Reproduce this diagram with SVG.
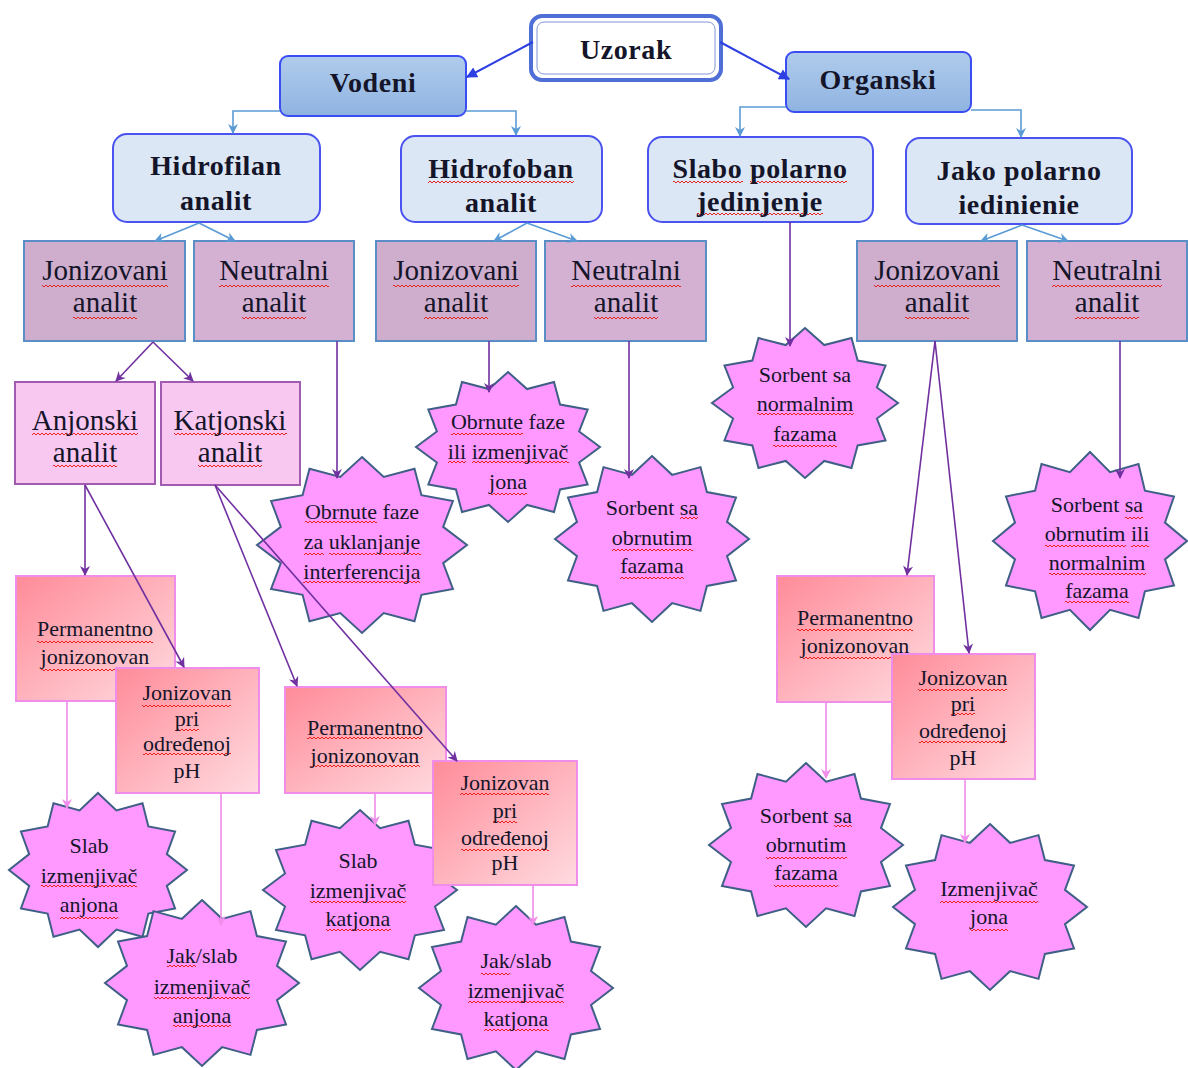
<svg xmlns="http://www.w3.org/2000/svg" width="1188" height="1068" viewBox="0 0 1188 1068">
<style>
text{font-family:"Liberation Serif","Times New Roman",serif;text-anchor:middle;fill:#15152a}
.b{font-weight:bold;font-size:28px;letter-spacing:0.6px}
.r{font-size:29px}
.s{font-size:22px}
.sq{fill:url(#wv)}
.top{fill:url(#gTop);stroke:#3a4df2;stroke-width:2}
.hid{fill:#dce7f5;stroke:#4a52ef;stroke-width:2}
.ion{fill:#cfadcc;stroke:#5b8ec6;stroke-width:2}
.neu{fill:#d4b0d2;stroke:#5b8ec6;stroke-width:2}
.ak{fill:#f8c8f1;stroke:#a15cb2;stroke-width:2}
.pk{fill:url(#gPink);stroke:#f08ce9;stroke-width:2}
.st{fill:#ff99ff;stroke:#3f5f86;stroke-width:2}
.cB{fill:none;stroke:#2d3fe3;stroke-width:2}
.cL{fill:none;stroke:#5b9bd5;stroke-width:1.6}
.cP{fill:none;stroke:#7030a0;stroke-width:1.6}
.cK{fill:none;stroke:#f08ce9;stroke-width:1.6}
</style>
<defs>
<linearGradient id="gTop" x1="0" y1="0" x2="0" y2="1"><stop offset="0" stop-color="#b0ccec"/><stop offset="1" stop-color="#8fb3e1"/></linearGradient>
<linearGradient id="gPink" x1="0" y1="0" x2="1" y2="1"><stop offset="0" stop-color="#ff8b99"/><stop offset="1" stop-color="#ffdbe0"/></linearGradient>
<pattern id="wv" patternUnits="userSpaceOnUse" x="0" y="0" width="4" height="4"><path d="M0,3 L2,1 L4,3" fill="none" stroke="#e8231e" stroke-width="1"/></pattern>
<polygon id="star" vector-effect="non-scaling-stroke" points="0,-1 0.207,-0.773 0.5,-0.866 0.566,-0.566 0.866,-0.5 0.773,-0.207 1,0 0.773,0.207 0.866,0.5 0.566,0.566 0.5,0.866 0.207,0.773 0,1 -0.207,0.773 -0.5,0.866 -0.566,0.566 -0.866,0.5 -0.773,0.207 -1,0 -0.773,-0.207 -0.866,-0.5 -0.566,-0.566 -0.5,-0.866 -0.207,-0.773"/>
<marker id="mB" viewBox="0 0 10 10" refX="9" refY="5" markerWidth="13" markerHeight="11" orient="auto" markerUnits="userSpaceOnUse"><path d="M0,0 L10,5 L0,10 z" fill="#2d3fe3"/></marker>
<marker id="mL" viewBox="0 0 10 10" refX="9" refY="5" markerWidth="11" markerHeight="10" orient="auto" markerUnits="userSpaceOnUse"><path d="M0,0 L10,5 L0,10 L3,5 z" fill="#5b9bd5"/></marker>
<marker id="mP" viewBox="0 0 10 10" refX="9" refY="5" markerWidth="11" markerHeight="10" orient="auto" markerUnits="userSpaceOnUse"><path d="M0,0 L10,5 L0,10 L3,5 z" fill="#7030a0"/></marker>
<marker id="mK" viewBox="0 0 10 10" refX="9" refY="5" markerWidth="11" markerHeight="10" orient="auto" markerUnits="userSpaceOnUse"><path d="M0,0 L10,5 L0,10 L3,5 z" fill="#f08ce9"/></marker>
</defs>
<rect width="1188" height="1068" fill="#ffffff"/>

<g id="uzorak">
<rect x="531" y="16" width="190" height="64" rx="11" fill="#fff" stroke="#4f6fd6" stroke-width="4"/>
<rect x="537" y="22" width="178" height="52" rx="7" fill="none" stroke="#8096d6" stroke-width="1"/>
<text class="b" x="626" y="59">Uzorak</text>
</g>
<g id="vodeni">
<rect class="top" x="280" y="56" width="186" height="60" rx="8"/>
<text class="b" x="373" y="92">Vodeni</text>
</g>
<g id="organski">
<rect class="top" x="786" y="52" width="185" height="60" rx="8"/>
<text class="b" x="878" y="89">Organski</text>
</g>

<g id="hidrofilan">
<rect class="hid" x="113" y="134" width="207" height="88" rx="14"/>
<text class="b" x="216" y="175">Hidrofilan</text>
<text class="b" x="216" y="210">analit</text>
</g>
<g id="hidrofoban">
<rect class="hid" x="401" y="136" width="201" height="86" rx="14"/>
<rect class="sq" x="428" y="180" width="146" height="4"/>
<text class="b" x="501" y="178">Hidrofoban</text>
<text class="b" x="501" y="212">analit</text>
</g>
<g id="slabo-polarno">
<rect class="hid" x="648" y="137" width="225" height="85" rx="14"/>
<rect class="sq" x="673" y="180" width="70" height="4"/>
<rect class="sq" x="750" y="180" width="97" height="4"/>
<rect class="sq" x="697" y="212" width="126" height="4"/>
<text class="b" x="760" y="178">Slabo polarno</text>
<text class="b" x="760" y="211">jedinjenje</text>
</g>
<g id="jako-polarno">
<rect class="hid" x="906" y="138" width="226" height="86" rx="14"/>
<text class="b" x="1019" y="180">Jako polarno</text>
<text class="b" x="1019" y="214">iedinienie</text>
</g>

<g id="jonizovani-1">
<rect class="ion" x="24" y="241" width="161" height="100"/>
<rect class="sq" x="42" y="284" width="126" height="4"/>
<rect class="sq" x="73" y="316" width="64" height="4"/>
<text class="r" x="105" y="280">Jonizovani</text>
<text class="r" x="105" y="312">analit</text>
</g>
<g id="neutralni-1">
<rect class="neu" x="194" y="241" width="160" height="100"/>
<rect class="sq" x="219" y="284" width="110" height="4"/>
<rect class="sq" x="242" y="316" width="64" height="4"/>
<text class="r" x="274" y="280">Neutralni</text>
<text class="r" x="274" y="312">analit</text>
</g>
<g id="jonizovani-2">
<rect class="ion" x="376" y="241" width="160" height="100"/>
<rect class="sq" x="393" y="284" width="126" height="4"/>
<rect class="sq" x="424" y="316" width="64" height="4"/>
<text class="r" x="456" y="280">Jonizovani</text>
<text class="r" x="456" y="312">analit</text>
</g>
<g id="neutralni-2">
<rect class="neu" x="545" y="241" width="161" height="100"/>
<rect class="sq" x="571" y="284" width="110" height="4"/>
<rect class="sq" x="594" y="316" width="64" height="4"/>
<text class="r" x="626" y="280">Neutralni</text>
<text class="r" x="626" y="312">analit</text>
</g>
<g id="jonizovani-3">
<rect class="ion" x="857" y="241" width="160" height="100"/>
<rect class="sq" x="874" y="284" width="126" height="4"/>
<rect class="sq" x="905" y="316" width="64" height="4"/>
<text class="r" x="937" y="280">Jonizovani</text>
<text class="r" x="937" y="312">analit</text>
</g>
<g id="neutralni-3">
<rect class="neu" x="1027" y="241" width="160" height="100"/>
<rect class="sq" x="1052" y="284" width="110" height="4"/>
<rect class="sq" x="1075" y="316" width="64" height="4"/>
<text class="r" x="1107" y="280">Neutralni</text>
<text class="r" x="1107" y="312">analit</text>
</g>

<g id="anjonski">
<rect class="ak" x="15" y="382" width="140" height="102"/>
<rect class="sq" x="32" y="432" width="106" height="4"/>
<rect class="sq" x="53" y="464" width="64" height="4"/>
<text class="r" x="85" y="430">Anjonski</text>
<text class="r" x="85" y="462">analit</text>
</g>
<g id="katjonski">
<rect class="ak" x="161" y="382" width="139" height="103"/>
<rect class="sq" x="174" y="432" width="113" height="4"/>
<rect class="sq" x="198" y="464" width="64" height="4"/>
<text class="r" x="230" y="430">Katjonski</text>
<text class="r" x="230" y="462">analit</text>
</g>

<g id="star-obrnute-izmenjivac">
<use href="#star" class="st" transform="translate(508,447) scale(92,75)"/>
<rect class="sq" x="451" y="432" width="72" height="4"/>
<rect class="sq" x="448" y="460" width="18" height="4"/>
<rect class="sq" x="472" y="460" width="97" height="4"/>
<rect class="sq" x="489" y="492" width="38" height="4"/>
<text class="s" x="508" y="429">Obrnute faze</text>
<text class="s" x="508" y="459">ili izmenjivač</text>
<text class="s" x="508" y="489">jona</text>
</g>
<g id="star-obrnute-interferencija">
<use href="#star" class="st" transform="translate(362,545) scale(105,88)"/>
<rect class="sq" x="305" y="520" width="72" height="4"/>
<rect class="sq" x="304" y="552" width="20" height="4"/>
<rect class="sq" x="329" y="552" width="92" height="4"/>
<rect class="sq" x="303" y="580" width="117" height="4"/>
<text class="s" x="362" y="519">Obrnute faze</text>
<text class="s" x="362" y="549">za uklanjanje</text>
<text class="s" x="362" y="579">interferencija</text>
</g>
<g id="star-sorbent-obrnutim-1">
<use href="#star" class="st" transform="translate(652,539) scale(97,83)"/>
<rect class="sq" x="680" y="516" width="18" height="4"/>
<rect class="sq" x="612" y="548" width="81" height="4"/>
<rect class="sq" x="620" y="576" width="64" height="4"/>
<text class="s" x="652" y="515">Sorbent sa</text>
<text class="s" x="652" y="545">obrnutim</text>
<text class="s" x="652" y="573">fazama</text>
</g>
<g id="star-sorbent-normalnim">
<use href="#star" class="st" transform="translate(805,403) scale(93,75)"/>
<rect class="sq" x="757" y="412" width="97" height="4"/>
<rect class="sq" x="773" y="444" width="64" height="4"/>
<text class="s" x="805" y="382">Sorbent sa</text>
<text class="s" x="805" y="411">normalnim</text>
<text class="s" x="805" y="441">fazama</text>
</g>
<g id="star-sorbent-obrnutim-normalnim">
<use href="#star" class="st" transform="translate(1090,541) scale(97,89)"/>
<rect class="sq" x="1125" y="516" width="18" height="4"/>
<rect class="sq" x="1045" y="544" width="81" height="4"/>
<rect class="sq" x="1131" y="544" width="18" height="4"/>
<rect class="sq" x="1049" y="572" width="97" height="4"/>
<rect class="sq" x="1065" y="600" width="64" height="4"/>
<text class="s" x="1097" y="512">Sorbent sa</text>
<text class="s" x="1097" y="541">obrnutim ili</text>
<text class="s" x="1097" y="570">normalnim</text>
<text class="s" x="1097" y="598">fazama</text>
</g>

<g id="perm-1">
<rect class="pk" x="16" y="576" width="159" height="125"/>
<rect class="sq" x="37" y="640" width="116" height="4"/>
<rect class="sq" x="41" y="668" width="109" height="4"/>
<text class="s" x="95" y="636">Permanentno</text>
<text class="s" x="95" y="664">jonizonovan</text>
</g>
<g id="jonizovan-1">
<rect class="pk" x="116" y="668" width="143" height="125"/>
<rect class="sq" x="142" y="704" width="89" height="4"/>
<rect class="sq" x="175" y="728" width="24" height="4"/>
<rect class="sq" x="143" y="752" width="88" height="4"/>
<text class="s" x="187" y="700">Jonizovan</text>
<text class="s" x="187" y="726">pri</text>
<text class="s" x="187" y="751">određenoj</text>
<text class="s" x="187" y="778">pH</text>
</g>
<g id="perm-2">
<rect class="pk" x="285" y="687" width="161" height="106"/>
<rect class="sq" x="307" y="736" width="116" height="4"/>
<rect class="sq" x="311" y="764" width="109" height="4"/>
<text class="s" x="365" y="735">Permanentno</text>
<text class="s" x="365" y="763">jonizonovan</text>
</g>
<g id="perm-3">
<rect class="pk" x="777" y="576" width="157" height="126"/>
<rect class="sq" x="797" y="628" width="116" height="4"/>
<rect class="sq" x="801" y="656" width="109" height="4"/>
<text class="s" x="855" y="625">Permanentno</text>
<text class="s" x="855" y="653">jonizonovan</text>
</g>
<g id="jonizovan-3">
<rect class="pk" x="892" y="654" width="143" height="125"/>
<rect class="sq" x="918" y="688" width="89" height="4"/>
<rect class="sq" x="951" y="712" width="24" height="4"/>
<rect class="sq" x="919" y="740" width="88" height="4"/>
<text class="s" x="963" y="685">Jonizovan</text>
<text class="s" x="963" y="711">pri</text>
<text class="s" x="963" y="738">određenoj</text>
<text class="s" x="963" y="765">pH</text>
</g>

<g id="star-slab-anjona">
<use href="#star" class="st" transform="translate(98,870) scale(89,77)"/>
<rect class="sq" x="41" y="884" width="96" height="4"/>
<rect class="sq" x="60" y="916" width="58" height="4"/>
<text class="s" x="89" y="853">Slab</text>
<text class="s" x="89" y="883">izmenjivač</text>
<text class="s" x="89" y="912">anjona</text>
</g>
<g id="star-jak-anjona">
<use href="#star" class="st" transform="translate(202,983) scale(97,83)"/>
<rect class="sq" x="167" y="964" width="29" height="4"/>
<rect class="sq" x="154" y="996" width="96" height="4"/>
<rect class="sq" x="173" y="1024" width="58" height="4"/>
<text class="s" x="202" y="963">Jak/slab</text>
<text class="s" x="202" y="994">izmenjivač</text>
<text class="s" x="202" y="1023">anjona</text>
</g>
<g id="star-slab-katjona">
<use href="#star" class="st" transform="translate(360,890) scale(97,80)"/>
<rect class="sq" x="310" y="900" width="96" height="4"/>
<rect class="sq" x="326" y="928" width="65" height="4"/>
<text class="s" x="358" y="868">Slab</text>
<text class="s" x="358" y="898">izmenjivač</text>
<text class="s" x="358" y="926">katjona</text>
</g>
<g id="jonizovan-2">
<rect class="pk" x="433" y="761" width="144" height="124"/>
<rect class="sq" x="460" y="792" width="89" height="4"/>
<rect class="sq" x="493" y="820" width="24" height="4"/>
<rect class="sq" x="461" y="848" width="88" height="4"/>
<text class="s" x="505" y="790">Jonizovan</text>
<text class="s" x="505" y="818">pri</text>
<text class="s" x="505" y="845">određenoj</text>
<text class="s" x="505" y="870">pH</text>
</g>
<g id="star-jak-katjona">
<use href="#star" class="st" transform="translate(516,988) scale(97,82)"/>
<rect class="sq" x="481" y="972" width="29" height="4"/>
<rect class="sq" x="468" y="1000" width="96" height="4"/>
<rect class="sq" x="484" y="1028" width="65" height="4"/>
<text class="s" x="516" y="968">Jak/slab</text>
<text class="s" x="516" y="998">izmenjivač</text>
<text class="s" x="516" y="1026">katjona</text>
</g>
<g id="star-sorbent-obrnutim-2">
<use href="#star" class="st" transform="translate(806,845) scale(97,82)"/>
<rect class="sq" x="834" y="824" width="18" height="4"/>
<rect class="sq" x="766" y="856" width="81" height="4"/>
<rect class="sq" x="774" y="884" width="64" height="4"/>
<text class="s" x="806" y="823">Sorbent sa</text>
<text class="s" x="806" y="852">obrnutim</text>
<text class="s" x="806" y="880">fazama</text>
</g>
<g id="star-izmenjivac-jona">
<use href="#star" class="st" transform="translate(990,907) scale(97,83)"/>
<rect class="sq" x="940" y="900" width="98" height="4"/>
<rect class="sq" x="970" y="928" width="38" height="4"/>
<text class="s" x="989" y="896">Izmenjivač</text>
<text class="s" x="989" y="924">jona</text>
</g>

<g id="connectors">
<path class="cB" d="M533,42 L467,77" marker-end="url(#mB)"/>
<path class="cB" d="M720,42 L789,79" marker-end="url(#mB)"/>
<path class="cL" d="M280,111 H233 V133" marker-end="url(#mL)"/>
<path class="cL" d="M466,111 H516 V135" marker-end="url(#mL)"/>
<path class="cL" d="M786,107 H740 V136" marker-end="url(#mL)"/>
<path class="cL" d="M971,110 H1021 V137" marker-end="url(#mL)"/>
<path class="cL" d="M199,223 L155,241" marker-end="url(#mL)"/>
<path class="cL" d="M199,223 L235,241" marker-end="url(#mL)"/>
<path class="cL" d="M527,223 L494,241" marker-end="url(#mL)"/>
<path class="cL" d="M527,223 L577,241" marker-end="url(#mL)"/>
<path class="cL" d="M1022,225 L981,241" marker-end="url(#mL)"/>
<path class="cL" d="M1022,225 L1068,241" marker-end="url(#mL)"/>
<path class="cP" d="M153,342 L116,381" marker-end="url(#mP)"/>
<path class="cP" d="M153,342 L193,381" marker-end="url(#mP)"/>
<path class="cP" d="M337,341 V478" marker-end="url(#mP)"/>
<path class="cP" d="M489,341 V392" marker-end="url(#mP)"/>
<path class="cP" d="M629,341 V478" marker-end="url(#mP)"/>
<path class="cP" d="M790,222 V346" marker-end="url(#mP)"/>
<path class="cP" d="M1120,341 V478" marker-end="url(#mP)"/>
<path class="cP" d="M935,341 L907,575" marker-end="url(#mP)"/>
<path class="cP" d="M935,341 L969,653" marker-end="url(#mP)"/>
<path class="cP" d="M85,485 V575" marker-end="url(#mP)"/>
<path class="cP" d="M85,485 L184,667" marker-end="url(#mP)"/>
<path class="cP" d="M215,485 L297,686" marker-end="url(#mP)"/>
<path class="cP" d="M215,485 L457,761" marker-end="url(#mP)"/>
<path class="cK" d="M67,701 V808" marker-end="url(#mK)"/>
<path class="cK" d="M221,793 V925" marker-end="url(#mK)"/>
<path class="cK" d="M375,793 V825" marker-end="url(#mK)"/>
<path class="cK" d="M533,885 V925" marker-end="url(#mK)"/>
<path class="cK" d="M826,702 V778" marker-end="url(#mK)"/>
<path class="cK" d="M965,779 V843" marker-end="url(#mK)"/>
</g>
</svg>
